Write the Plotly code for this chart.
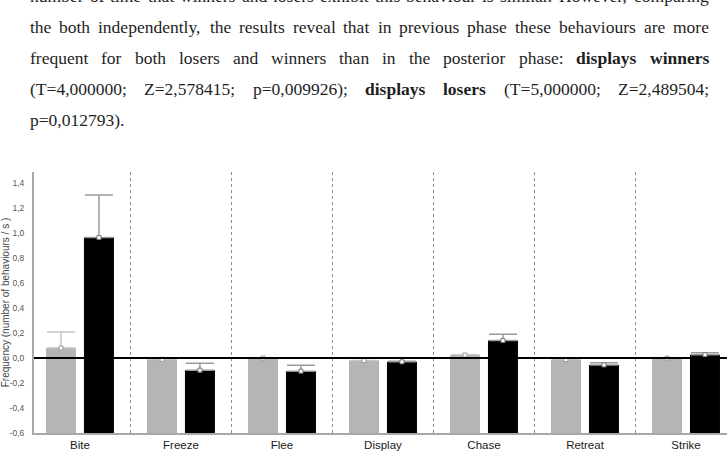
import plotly.graph_objects as go

# ---------------- data ----------------
categories = ["Bite", "Freeze", "Flee", "Display", "Chase", "Retreat", "Strike"]
gray_values = [0.08, -0.01, 0.0, -0.02, 0.024, -0.012, 0.0]
gray_errors = [0.128, 0.0, 0.0, 0.0, 0.003, 0.0, 0.0]
black_values = [0.965, -0.097, -0.105, -0.03, 0.14, -0.055, 0.027]
black_errors = [0.34, 0.055, 0.047, 0.005, 0.05, 0.018, 0.015]
y_tick_values = [-0.6, -0.4, -0.2, 0.0, 0.2, 0.4, 0.6, 0.8, 1.0, 1.2, 1.4]
y_tick_labels = ["-0,6", "-0,4", "-0,2", "0,0", "0,2", "0,4", "0,6", "0,8", "1,0", "1,2", "1,4"]
y_min, y_max = -0.6, 1.49

text_lines = [
    [("number", 0), ("of", 0), ("time", 0), ("that", 0), ("winners", 0), ("and", 0), ("losers", 0),
     ("exhibit", 0), ("this", 0), ("behaviour", 0), ("is", 0), ("similar.", 0), ("However,", 0), ("comparing", 0)],
    [("the", 0), ("both", 0), ("independently,", 0), ("the", 0), ("results", 0), ("reveal", 0), ("that", 0),
     ("in", 0), ("previous", 0), ("phase", 0), ("these", 0), ("behaviours", 0), ("are", 0), ("more", 0)],
    [("frequent", 0), ("for", 0), ("both", 0), ("losers", 0), ("and", 0), ("winners", 0), ("than", 0),
     ("in", 0), ("the", 0), ("posterior", 0), ("phase:", 0), ("displays", 1), ("winners", 1)],
    [("(T=4,000000;", 0), ("Z=2,578415;", 0), ("p=0,009926);", 0), ("displays", 1), ("losers", 1),
     ("(T=5,000000;", 0), ("Z=2,489504;", 0)],
    [("p=0,012793).", 0)],
]
justify = [True, True, True, True, False]
baselines = [4, 35, 66, 97, 128]

# ---------------- layout geometry ----------------
W, H = 727, 453
ML, MR, MT, MB = 34, 0, 172, 20
PW, PH = W - ML - MR, H - MT - MB


def px_x(px):
    return (px - ML) / PW


def px_y(py):
    return 1 - (py - MT) / PH


# Times metrics (per 1000 em)
reg = {' ': 250, '(': 333, ')': 333, ',': 250, '-': 333, '.': 250, '/': 278, ':': 278, ';': 278, '=': 564,
       'H': 722, 'T': 611, 'Z': 611,
       'a': 444, 'b': 500, 'c': 444, 'd': 500, 'e': 444, 'f': 333, 'g': 500, 'h': 500, 'i': 278, 'j': 278,
       'k': 500, 'l': 278, 'm': 778, 'n': 500, 'o': 500, 'p': 500, 'q': 500, 'r': 333, 's': 389, 't': 278,
       'u': 500, 'v': 500, 'w': 722, 'x': 500, 'y': 500, 'z': 444}
bold = dict(reg)
bold.update({'a': 500, 'b': 556, 'd': 556, 'h': 556, 'k': 556, 'm': 833, 'n': 556, 'p': 556, 'q': 556,
             'r': 444, 't': 333, 'u': 556, 'j': 333})
FS = 17.5


def word_width(w, b):
    tbl = bold if b else reg
    return sum(tbl.get(ch, 500) for ch in w) * FS / 1000.0


TL, TR = 29, 708
annotations = []
for line, just, base in zip(text_lines, justify, baselines):
    widths = [word_width(w, b) for w, b in line]
    if just and len(line) > 1:
        gap = (TR - TL - sum(widths)) / (len(line) - 1)
    else:
        gap = 250 * FS / 1000.0
    x = TL
    for (w, b), wd in zip(line, widths):
        annotations.append(dict(
            x=px_x(x - 1), y=px_y(base + 4), xref="paper", yref="paper",
            xanchor="left", yanchor="bottom", showarrow=False,
            text=f"<b>{w}</b>" if b else w,
            font=dict(family="Liberation Serif", size=FS, color="#1e1e1e")))
        x += wd + gap

# ---------------- figure ----------------
fig = go.Figure()
fig.add_trace(go.Bar(
    x=categories, y=[v - y_min for v in gray_values], base=y_min,
    marker=dict(color="#b5b5b5", line=dict(width=0)), name="Winners", showlegend=False))
fig.add_trace(go.Bar(
    x=categories, y=[v - y_min for v in black_values], base=y_min,
    marker=dict(color="#000000", line=dict(width=0)), name="Losers", showlegend=False))

fig.add_trace(go.Scatter(
    x=categories, y=gray_values, mode="markers", showlegend=False,
    marker=dict(symbol="square", size=4, color="white", line=dict(color="#9a9a9a", width=1)),
    error_y=dict(type="data", array=gray_errors, arrayminus=[0] * 7, symmetric=False,
                 color="#c4c4c4", thickness=1.5, width=14)))
fig.add_trace(go.Scatter(
    x=categories, y=black_values, mode="markers", showlegend=False,
    marker=dict(symbol="square", size=4, color="white", line=dict(color="#777777", width=1)),
    error_y=dict(type="data", array=black_errors, arrayminus=[0] * 7, symmetric=False,
                 color="#9a9a9a", thickness=1.5, width=14)))

shapes = []
for i in range(len(categories) - 1):
    shapes.append(dict(type="line", xref="x", yref="y", x0=i + 0.5, x1=i + 0.5, y0=y_min, y1=y_max,
                       line=dict(color="#8c8c8c", width=1, dash="dot"), layer="below"))
shapes.append(dict(type="line", xref="paper", yref="y", x0=0, x1=1, y0=0, y1=0,
                   line=dict(color="#000000", width=2), layer="above"))

fig.update_layout(
    width=W, height=H, margin=dict(l=ML, r=MR, t=MT, b=MB),
    paper_bgcolor="white", plot_bgcolor="white",
    barmode="group", bargap=0.248, bargroupgap=0.21,
    scattermode="group", scattergap=0.248,
    shapes=shapes, annotations=annotations, showlegend=False,
    font=dict(family="Liberation Sans"),
)
fig.update_xaxes(
    range=[-0.455, 6.406], showgrid=False, zeroline=False,
    showline=True, linecolor="#a8a8a8", linewidth=1.5,
    ticks="", tickfont=dict(family="Liberation Sans", size=11.5, color="#1a1a1a"),
)
fig.update_yaxes(
    range=[y_min, y_max], showgrid=False, zeroline=False,
    showline=True, linecolor="#a8a8a8", linewidth=2,
    tickmode="array", tickvals=y_tick_values, ticktext=y_tick_labels,
    ticks="outside", ticklen=6, tickcolor="rgba(0,0,0,0)",
    tickfont=dict(family="Liberation Sans", size=8.5, color="#555555"),
    title=dict(text="Frequency (number of behaviours / s )", standoff=2,
               font=dict(family="Liberation Sans", size=10, color="#444444")),
)

fig.write_html("out.html")
